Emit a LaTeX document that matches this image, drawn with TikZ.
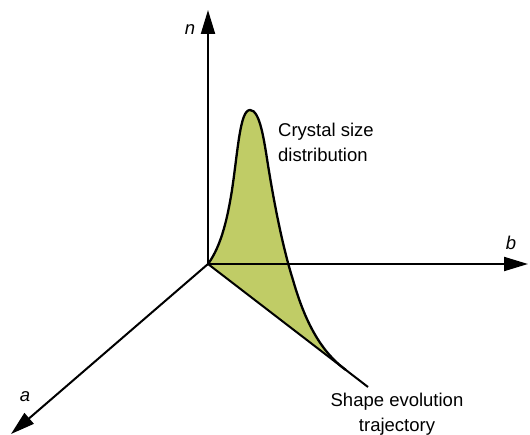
\documentclass[tikz,border=0pt]{standalone}
\usepackage{fontspec}
\setmainfont{Liberation Sans}
\usetikzlibrary{arrows.meta}
\definecolor{csdgreen}{RGB}{192,204,102}
\tikzset{
  axis/.style={line width=2pt, -{Triangle[length=24pt,width=14pt]}},
  lbl/.style={font=\fontsize{18.5}{25}\selectfont, inner sep=0pt},
  axlbl/.style={font=\fontsize{18.5}{25}\selectfont\itshape, inner sep=0pt}
}
\begin{document}
\begin{tikzpicture}[x=1pt,y=-1pt]
\useasboundingbox (0,0) rectangle (530,435);
\coordinate (O) at (208,264);
\coordinate (N) at (208,10);
\coordinate (B) at (528,264);
\coordinate (A) at (11,434);
\coordinate (T) at (368,387);
\coordinate (E) at (346,370);
\coordinate (P) at (250,110);
% filled distribution
\fill[csdgreen] (O) .. controls (222,245) and (228,215) .. (232,190)
  .. controls (238,150) and (240,110) .. (P)
  .. controls (260,110) and (264,140) .. (268,165)
  .. controls (276,215) and (285,255) .. (293,280)
  .. controls (303,315) and (318,350) .. (E) -- (O) -- cycle;
% axes
\draw[axis] (O) -- (N);
\draw[axis] (O) -- (B);
\draw[axis] (O) -- (A);
\draw[line width=2pt] (O) -- (T);
% curve
\draw[line width=2.3pt] (O) .. controls (222,245) and (228,215) .. (232,190)
  .. controls (238,150) and (240,110) .. (P)
  .. controls (260,110) and (264,140) .. (268,165)
  .. controls (276,215) and (285,255) .. (293,280)
  .. controls (303,315) and (318,350) .. (E);
% labels
\node[axlbl] (ln) at (190,30) {n};
\node[axlbl] (lb) at (511,243) {b};
\node[axlbl] (la) at (25,397) {a};
\node[lbl, align=left, anchor=west] (csd) at (278,142) {Crystal size\\distribution};
\node[lbl, align=center] (set) at (397,414) {Shape evolution\\trajectory};
\end{tikzpicture}
\end{document}
